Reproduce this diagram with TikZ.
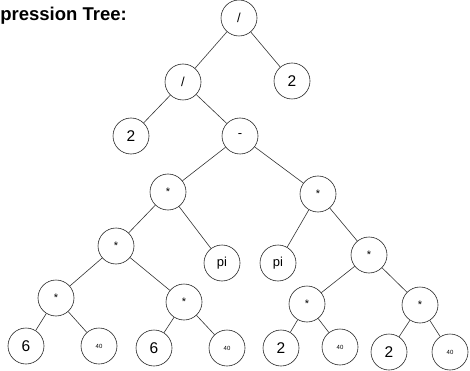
\documentclass[tikz,border=0pt]{standalone}
\usepackage{fontspec}
\setmainfont{Liberation Sans}
\usepackage{tikz}

\tikzset{
	treeNode/.style={circle, draw=black!85, line width=0.6pt, minimum size=36pt, inner sep=0pt},
	opText/.style={font=\fontsize{13}{15}\selectfont},
	starText/.style={font=\fontsize{11}{13}\selectfont},
	numText/.style={font=\fontsize{15.5}{18}\selectfont},
	tinyText/.style={font=\fontsize{6}{7}\selectfont},
	treeEdge/.style={draw=black!80, line width=0.6pt}
}

\begin{document}
\begin{tikzpicture}[x=1pt, y=-1pt]
	\useasboundingbox (0,0) rectangle (470,371);
	
	% Title, cut at the left edge
	\node[anchor=base east, inner sep=0pt, font=\fontsize{18.5}{22}\selectfont\bfseries] (title) at (127,21) {Expression Tree:};
	
	% Upper part of the tree
	\node[treeNode, opText] (root) at (239,18) {/};
	\node[treeNode, opText] (divL) at (183,82) {/};
	\node[treeNode, numText] (twoR) at (292,81) {2};
	\node[treeNode, numText] (twoL) at (131,136) {2};
	\node[treeNode, opText] (minus) at (240,136) {-};
	
	% Products
	\node[treeNode, starText] (mulA) at (168,192) {*};
	\node[treeNode, starText] (mulB) at (318,194) {*};
	\node[treeNode, starText] (mulC) at (116,246) {*};
	\node[treeNode, opText] (piL) at (222,263) {pi};
	\node[treeNode, opText] (piR) at (278,263) {pi};
	\node[treeNode, starText] (mulD) at (369,255) {*};
	\node[treeNode, starText] (mulE) at (56,298) {*};
	\node[treeNode, starText] (mulF) at (184,302) {*};
	\node[treeNode, starText] (mulG) at (307,304) {*};
	\node[treeNode, starText] (mulH) at (420,305) {*};
	
	% Leaves
	\node[treeNode, numText] (sixA) at (26,346) {6};
	\node[treeNode, tinyText] (fortyA) at (99,346) {40};
	\node[treeNode, numText] (sixB) at (154,348) {6};
	\node[treeNode, tinyText] (fortyB) at (227,348) {40};
	\node[treeNode, numText] (twoA) at (281,348) {2};
	\node[treeNode, tinyText] (fortyC) at (340,347) {40};
	\node[treeNode, numText] (twoB) at (389,352) {2};
	\node[treeNode, tinyText] (fortyD) at (450,352) {40};
	
	\foreach \a/\b in {root/divL, root/twoR, divL/twoL, divL/minus, minus/mulA, minus/mulB,
		mulA/mulC, mulA/piL, mulB/piR, mulB/mulD, mulC/mulE, mulC/mulF, mulD/mulG, mulD/mulH,
		mulE/sixA, mulE/fortyA, mulF/sixB, mulF/fortyB, mulG/twoA, mulG/fortyC, mulH/twoB, mulH/fortyD} {
		\draw[treeEdge] (\a) -- (\b);
	}
\end{tikzpicture}
\end{document}
